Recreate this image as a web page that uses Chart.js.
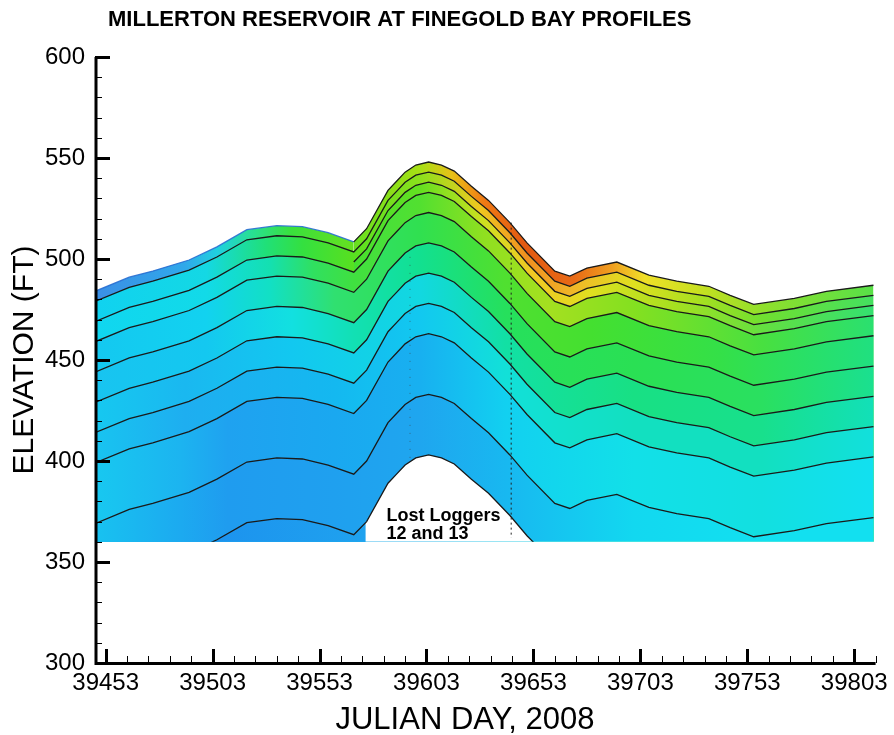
<!DOCTYPE html>
<html><head><meta charset="utf-8">
<script src="https://cdn.jsdelivr.net/npm/chart.js@4.4.1/dist/chart.umd.min.js"></script>
<style>html,body{margin:0;padding:0;background:#fff;}#wrap{width:894px;height:735px;}</style>
</head><body><div id="wrap"><canvas id="c" width="894" height="735"></canvas></div>
<script>
// ---------------- DATA ----------------
const days = [39448,39464,39475,39492,39505,39519,39533,39545,39557,39569,39575,39585,39589,39593,39598,39604,39610,39616,39624,39632,39642,39650,39663,39670,39678,39692,39707,39720,39735,39745,39756,39775,39790,39812];
const waterSurface = [484,491,494,499.5,506,514.5,516.5,516,513,508.5,515,534,538.5,543,546.5,548,546.5,543.5,536,529,518,508,494,491.5,495.5,498.5,492,489,486.5,482,477.5,480.5,484,487];
const logger2  = [479,486,489,494.5,501,509.5,511.5,511,508,503.5,510,529,533.5,538,541.5,543,541.5,538.5,531,524,513,503,489,486.5,490.5,493.5,487,484,481.5,477,472.5,475.5,479,482];
const logger3  = [null,null,null,null,null,null,null,null,null,498.5,505,524,528.5,533,536.5,538,536.5,533.5,526,519,508,498,484,481.5,485.5,488.5,482,479,476.5,472,467.5,470.5,474,477];
const logger4  = [469,476,479,484.5,491,499.5,501.5,501,498,493.5,500,519,523.5,528,531.5,533,531.5,528.5,521,514,503,493,479,476.5,480.5,483.5,477,474,471.5,467,462.5,465.5,469,472];
const logger5  = [459,466,469,474.5,481,489.5,491.5,491,488,483.5,490,509,513.5,518,521.5,523,521.5,518.5,511,504,493,483,469,466.5,470.5,473.5,467,464,461.5,457,452.5,455.5,459,462];
const logger6  = [444,451,454,459.5,466,474.5,476.5,476,473,468.5,475,494,498.5,503,506.5,508,506.5,503.5,496,489,478,468,454,451.5,455.5,458.5,452,449,446.5,442,437.5,440.5,444,447];
const logger7  = [429,436,439,444.5,451,459.5,461.5,461,458,453.5,460,479,483.5,488,491.5,493,491.5,488.5,481,474,463,453,439,436.5,440.5,443.5,437,434,431.5,427,422.5,425.5,429,432];
const logger8  = [414,421,424,429.5,436,444.5,446.5,446,443,438.5,445,464,468.5,473,476.5,478,476.5,473.5,466,459,448,438,424,421.5,425.5,428.5,422,419,416.5,412,407.5,410.5,414,417];
const logger9  = [399,406,409,414.5,421,429.5,431.5,431,428,423.5,430,449,453.5,458,461.5,463,461.5,458.5,451,444,433,423,409,406.5,410.5,413.5,407,404,401.5,397,392.5,395.5,399,402];
const logger10 = [369,376,379,384.5,391,399.5,401.5,401,398,393.5,400,419,423.5,428,431.5,433,431.5,428.5,421,414,403,393,379,376.5,380.5,383.5,377,374,371.5,367,362.5,365.5,369,372];
const logger11 = [339,346,349,354.5,361,369.5,371.5,371,368,363.5,370,389,393.5,398,401.5,403,401.5,398.5,391,384,373,363,349,346.5,350.5,353.5,347,344,341.5,337,332.5,335.5,339,342];
const xTickValues = [39453,39503,39553,39603,39653,39703,39753,39803];
const yTickValues = [300,350,400,450,500,550,600];
const floorElevation = 360;          // bottom of profile data
const lostLoggersFromDay = 39574.5;  // loggers 12 & 13 lost after this day
const logger1FromDay = 39569;
const gapMarkDays = [39642.6, 39595.3];
const gapMarkTop = [518, 505];
const gapMarkBottom = [362, 400];
const noteLines = ['Lost Loggers', '12 and 13'];
const noteDay = 39584.3, noteElev = 370.3;

// ---------------- STYLES ----------------
const bandStops = [
  [[39448,'#3b8fe6'],[39490,'#30a8ea'],[39505,'#20d0e0'],[39522,'#28e090'],[39540,'#3ae03c'],[39569,'#66e020'],[39600,'#a8e014'],[39615,'#e8c018'],[39630,'#f07a14'],[39648,'#e25a12'],[39672,'#e86a16'],[39690,'#f0a020'],[39705,'#f0e028'],[39730,'#c8e020'],[39760,'#90e02c'],[39812,'#58e048']],
  [[39448,'#10d2f0'],[39500,'#14d8e4'],[39528,'#20e078'],[39545,'#34e040'],[39569,'#58e020'],[39600,'#8ce01c'],[39628,'#f0c820'],[39650,'#f09020'],[39672,'#f0b828'],[39700,'#e0e020'],[39730,'#a8e020'],[39760,'#70e030'],[39812,'#44e060']],
  [[39569,'#44e030'],[39600,'#64e020'],[39630,'#d0e020'],[39652,'#f0c824'],[39680,'#e0e020'],[39720,'#a4e020'],[39760,'#64e040'],[39812,'#34e070']],
  [[39448,'#10d6f0'],[39500,'#12dae8'],[39530,'#14e0b0'],[39550,'#30e060'],[39569,'#40e040'],[39600,'#52e030'],[39630,'#90e020'],[39660,'#a4e020'],[39700,'#84e020'],[39760,'#48e040'],[39812,'#2ae070']],
  [[39448,'#14c8f0'],[39500,'#12d2f0'],[39530,'#12e0c4'],[39560,'#30e070'],[39600,'#30e050'],[39640,'#50e030'],[39680,'#44e030'],[39740,'#34e048'],[39812,'#20e080']],
  [[39448,'#18c4f0'],[39500,'#14c8f0'],[39540,'#12e0e0'],[39569,'#12e0b4'],[39600,'#12e090'],[39640,'#26e05c'],[39700,'#2ae054'],[39760,'#2ae060'],[39812,'#1ae090']],
  [[39448,'#16c8f0'],[39490,'#1ab8f0'],[39540,'#12c8f0'],[39600,'#12d8e0'],[39640,'#12e0a4'],[39700,'#18e084'],[39760,'#18e08c'],[39812,'#12e0b8']],
  [[39448,'#18c4f0'],[39490,'#1eaef0'],[39560,'#14b8f0'],[39600,'#12c8f0'],[39640,'#12e0d8'],[39700,'#12e0c0'],[39760,'#12e0c0'],[39812,'#12e0dc']],
  [[39448,'#18c8f0'],[39488,'#1cb4f0'],[39510,'#1fa2f0'],[39560,'#1aa8f0'],[39600,'#18b0f0'],[39640,'#12d0f0'],[39700,'#12e0e8'],[39760,'#12e0e0'],[39812,'#12e0f0']],
  [[39448,'#18c2f0'],[39488,'#1caaf0'],[39510,'#1f9cef'],[39560,'#1fa0ef'],[39600,'#1fa6ef'],[39640,'#18b8f0'],[39700,'#12d8f0'],[39760,'#12e0f0'],[39812,'#12e0f0']],
  [[39448,'#1aa8f0'],[39500,'#1c92ee'],[39574.4,'#1fa2ef'],[39574.6,'#ffffff'],[39812,'#ffffff']]
];
const FONT = "'Liberation Sans', Arial, Helvetica, sans-serif";

function gradientFor(stops) {
  return (ctx) => {
    const chart = ctx.chart, a = chart.chartArea;
    if (!a) return 'transparent';
    const xs = chart.scales.x;
    const g = chart.ctx.createLinearGradient(a.left, 0, a.right, 0);
    stops.forEach(([d, c]) => {
      let o = (xs.getPixelForValue(d) - a.left) / (a.right - a.left);
      o = Math.min(1, Math.max(0, o));
      g.addColorStop(o, c);
    });
    return g;
  };
}

const lineSeries = [waterSurface, logger2, logger3, logger4, logger5, logger6, logger7, logger8, logger9, logger10, logger11];
const datasets = lineSeries.map((vals, i) => ({
  label: i === 0 ? 'Water surface' : 'Logger ' + (i + 1),
  data: days.map((d, k) => ({x: d, y: vals[k]})),
  borderColor: '#1a1a1a',
  borderWidth: 1.3,
  pointRadius: 0,
  tension: 0,
  spanGaps: false,
  fill: {value: floorElevation},
  backgroundColor: gradientFor(bandStops[i]),
  order: 30 - i,
  segment: i === 0 ? {borderColor: (c) => c.p0.parsed.x >= logger1FromDay ? '#1a1a1a' : 'rgba(40,110,210,0.9)'} : undefined
}));
gapMarkDays.forEach((d, k) => datasets.push({
  label: 'gap', data: [{x: d, y: gapMarkTop[k]}, {x: d, y: gapMarkBottom[k]}],
  borderColor: k === 0 ? '#222' : 'rgba(60,60,60,0.55)', borderWidth: 1, borderDash: k === 0 ? [2, 3] : [1, 7],
  pointRadius: 0, fill: false, order: 0
}));

const decor = {
  id: 'decor',
  beforeDatasetsDraw(chart) {
    const {ctx, chartArea: a, scales: {y}} = chart;
    ctx.save();
    ctx.beginPath();
    ctx.rect(a.left, a.top, a.right - a.left, y.getPixelForValue(floorElevation) - a.top);
    ctx.clip();
  },
  afterDatasetsDraw(chart) { chart.ctx.restore(); },
  afterDraw(chart) {
    const {ctx, chartArea: a, scales: {x, y}} = chart;
    ctx.save();
    ctx.strokeStyle = '#000';
    ctx.lineCap = 'butt';
    ctx.lineWidth = 3;
    ctx.beginPath();
    ctx.moveTo(a.left + 1, a.top); ctx.lineTo(a.left + 1, a.bottom + 1.5);
    ctx.moveTo(a.left - 0.5, a.bottom + 0.5); ctx.lineTo(a.right, a.bottom + 0.5);
    ctx.stroke();
    for (let v = y.min; v <= y.max + 1e-6; v += 10) {
      const py = Math.round(y.getPixelForValue(v)) + 0.5;
      const major = yTickValues.includes(v);
      ctx.lineWidth = major ? 3 : 1;
      ctx.beginPath(); ctx.moveTo(a.left, py); ctx.lineTo(a.left + (major ? 15 : 7), py); ctx.stroke();
    }
    const first = xTickValues[0];
    for (let v = first - 10 * Math.floor((first - x.min) / 10); v <= x.max + 0.5; v += 10) {
      const px = Math.round(x.getPixelForValue(v)) + 0.5;
      const major = xTickValues.includes(v);
      ctx.lineWidth = major ? 3 : 1;
      ctx.beginPath(); ctx.moveTo(px, a.bottom); ctx.lineTo(px, a.bottom - (major ? 14 : 7)); ctx.stroke();
    }
    ctx.fillStyle = '#000';
    ctx.textBaseline = 'alphabetic';
    ctx.textAlign = 'left';
    ctx.font = 'bold 22px ' + FONT;
    ctx.fillText('MILLERTON RESERVOIR AT FINEGOLD BAY PROFILES', a.left + 13, 26);
    ctx.font = 'bold 18px ' + FONT;
    const nx = x.getPixelForValue(noteDay), ny = y.getPixelForValue(noteElev);
    noteLines.forEach((t, i) => ctx.fillText(t, nx, ny + i * 18));
    // x-axis title
    ctx.font = '31px ' + FONT;
    ctx.textAlign = 'center';
    ctx.fillText('JULIAN DAY, 2008', a.left + 370, chart.height - 6);
    ctx.restore();
  }
};

new Chart(document.getElementById('c'), {
  type: 'line',
  data: {datasets},
  options: {
    responsive: false,
    animation: false,
    devicePixelRatio: 1,
    layout: {padding: {left: 0, right: 15, top: 57, bottom: 0}},
    plugins: {legend: {display: false}, tooltip: {enabled: false}, title: {display: false}},
    scales: {
      x: {
        type: 'linear', min: 39448, max: 39813,
        grid: {display: false, drawTicks: false}, border: {display: false},
        afterBuildTicks: (s) => { s.ticks = xTickValues.map(v => ({value: v})); },
        afterFit: (s) => { s.height = 72; },
        ticks: {autoSkip: false, maxRotation: 0, padding: 6, color: '#000', font: {family: FONT, size: 24}, callback: (v) => String(v)},
        title: {display: false}
      },
      y: {
        type: 'linear', min: 300, max: 600,
        grid: {display: false, drawTicks: false}, border: {display: false},
        afterBuildTicks: (s) => { s.ticks = yTickValues.map(v => ({value: v})); },
        afterFit: (s) => { s.width = 95; },
        ticks: {padding: 10, color: '#000', font: {family: FONT, size: 24}, callback: (v) => String(v)},
        title: {display: true, text: 'ELEVATION (FT)', color: '#000', font: {family: FONT, size: 30}, padding: {top: 7, bottom: 0}}
      }
    }
  },
  plugins: [decor]
});
</script>
</body></html>
